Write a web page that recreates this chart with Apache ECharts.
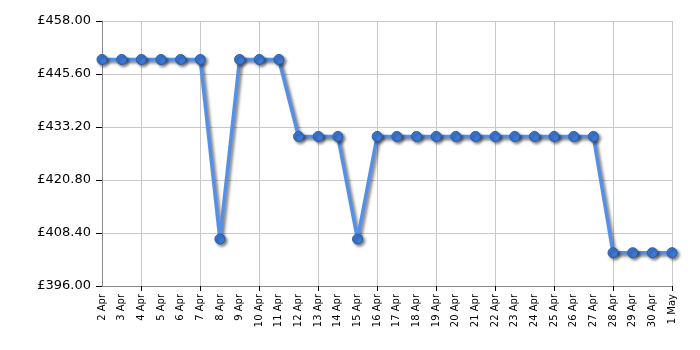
<!DOCTYPE html>
<html>
<head>
<meta charset="utf-8">
<script src="https://cdn.jsdelivr.net/npm/echarts@6/dist/echarts.min.js"></script>
<style>html,body{margin:0;padding:0;background:#fff}#c{width:700px;height:350px}</style>
</head>
<body>
<div id="c"></div>
<script>
var categories = ["2 Apr","3 Apr","4 Apr","5 Apr","6 Apr","7 Apr","8 Apr","9 Apr","10 Apr","11 Apr","12 Apr","13 Apr","14 Apr","15 Apr","16 Apr","17 Apr","18 Apr","19 Apr","20 Apr","21 Apr","22 Apr","23 Apr","24 Apr","25 Apr","26 Apr","27 Apr","28 Apr","29 Apr","30 Apr","1 May"];
var prices = [448.99,448.99,448.99,448.99,448.99,448.99,406.99,448.99,448.99,448.99,430.99,430.99,430.99,406.99,430.99,430.99,430.99,430.99,430.99,430.99,430.99,430.99,430.99,430.99,430.99,430.99,403.79,403.79,403.79,403.79];
var yMin = 396, yMax = 458, yStep = 12.4;

var n = categories.length;
function gridIdx(i){ return i > 0 && (n - 1 - i) % 3 === 0; }

var chart = echarts.init(document.getElementById('c'), null, {renderer:'canvas'});
chart.setOption({
  animation: false,
  grid: {left: 102, right: 28, top: 21, bottom: 64, containLabel: false},
  xAxis: {
    type: 'category',
    data: categories,
    boundaryGap: false,
    axisLine: {show: true, lineStyle: {color: '#888', width: 1}},
    axisTick: {show: true, interval: function(i){ return gridIdx(i); }, length: 5, lineStyle: {color: '#000'}},
    axisLabel: {interval: 0, rotate: 90, fontFamily: 'DejaVu Sans', fontSize: 10, color: '#000', margin: 8},
    splitLine: {show: true, interval: function(i){ return gridIdx(i); }, lineStyle: {color: '#c8c8c8', width: 1}}
  },
  yAxis: {
    type: 'value',
    min: yMin, max: yMax, interval: yStep,
    axisLine: {show: true, lineStyle: {color: '#888', width: 1}},
    axisTick: {show: true, length: 6, lineStyle: {color: '#000'}},
    axisLabel: {fontFamily: 'DejaVu Sans', fontSize: 13, color: '#000', margin: 11,
      formatter: function(v){ return '£' + v.toFixed(2); }},
    splitLine: {show: true, lineStyle: {color: '#c8c8c8', width: 1}}
  },
  series: [{
    type: 'line',
    data: prices,
    symbol: 'circle',
    symbolSize: 10,
    lineStyle: {color: '#5590e6', width: 3.5, shadowColor: 'rgba(0,0,0,0.5)', shadowBlur: 3, shadowOffsetX: 2, shadowOffsetY: 2},
    itemStyle: {color: '#3d7ad6', borderColor: '#2a5ca8', borderWidth: 1, shadowColor: 'rgba(0,0,0,0.5)', shadowBlur: 3, shadowOffsetX: 2, shadowOffsetY: 2}
  }]
});
</script>
</body>
</html>
